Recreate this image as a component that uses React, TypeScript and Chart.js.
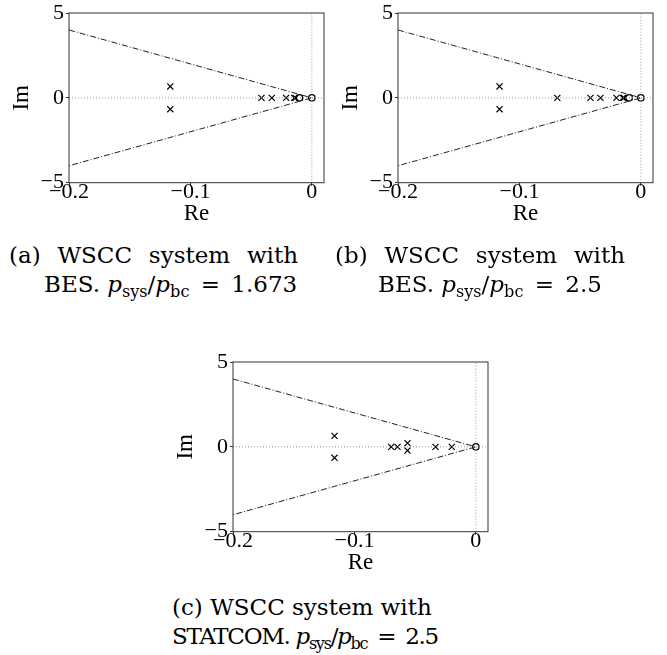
import React, { useEffect, useRef } from "react";
import { Chart, registerables } from "chart.js";

Chart.register(...registerables);

// ---- shared axis data ----
const X_TICKS = [-0.2, -0.1, 0];
const Y_TICKS = [-5, 0, 5];
const X_RANGE = [-0.2, 0.01];
const Y_RANGE = [-5, 5];
const ZERO_PAIR = [0, 0];
// damping-ratio boundary (dash-dot)
const DAMPING_RE = [-0.2, 0, -0.2];
const DAMPING_IM = [4, 0, -4];

// ---- panel (a): WSCC with BES, p_sys/p_bc = 1.673 ----
const A_CROSS_RE = [-0.1166, -0.1166, -0.0415, -0.033, -0.0212, -0.0145, -0.0135];
const A_CROSS_IM = [0.67, -0.67, 0, 0, 0, 0, 0];
const A_CIRCLE_RE = [-0.0102, 0];
const A_CIRCLE_IM = [0, 0];

// ---- panel (b): WSCC with BES, p_sys/p_bc = 2.5 ----
const B_CROSS_RE = [-0.1164, -0.1164, -0.0688, -0.0415, -0.0333, -0.0201, -0.0148, -0.0138];
const B_CROSS_IM = [0.67, -0.67, 0, 0, 0, 0, 0, 0];
const B_CIRCLE_RE = [-0.0096, 0];
const B_CIRCLE_IM = [0, 0];

// ---- panel (c): WSCC with STATCOM, p_sys/p_bc = 2.5 ----
const C_CROSS_RE = [-0.1164, -0.1164, -0.0697, -0.0645, -0.0563, -0.0563, -0.0332, -0.0198];
const C_CROSS_IM = [0.645, -0.645, 0, 0, 0.22, -0.22, 0, 0];
const C_CIRCLE_RE = [0];
const C_CIRCLE_IM = [0];

const SERIF = '"DejaVu Serif", "Liberation Serif", serif';
const AXIS_SERIF = '"Liberation Serif", "DejaVu Serif", serif';

const fmt = (v: number | string) => {
  const n = Number(v);
  if (n === 0) return "0";
  return String(n).replace("-", "\u2212");
};

const framePlugin = {
  id: "frame",
  afterDraw(chart: any) {
    const { ctx, chartArea } = chart;
    const { left, top, right, bottom } = chartArea;
    ctx.save();
    ctx.strokeStyle = "#333";
    ctx.lineWidth = 1;
    ctx.strokeRect(left, top, right - left, bottom - top);
    ctx.restore();
  },
};

type PanelProps = {
  left: number;
  top: number;
  crossRe: number[];
  crossIm: number[];
  circRe: number[];
  circIm: number[];
};

const CW = 340;
const CH = 235;
const X_AXIS_H = 45;

function Panel({ left, top, crossRe, crossIm, circRe, circIm }: PanelProps) {
  const ref = useRef<HTMLCanvasElement>(null);
  useEffect(() => {
    if (!ref.current) return;
    const pts = (xs: number[], ys: number[]) => xs.map((x, i) => ({ x, y: ys[i] }));
    const chart = new Chart(ref.current, {
      type: "scatter",
      data: {
        datasets: [
          {
            data: pts(X_RANGE, ZERO_PAIR),
            showLine: true,
            borderColor: "#9a9a9a",
            borderWidth: 1,
            borderDash: [1, 2],
            pointRadius: 0,
          },
          {
            data: pts(ZERO_PAIR, Y_RANGE),
            showLine: true,
            borderColor: "#9a9a9a",
            borderWidth: 1,
            borderDash: [1, 2],
            pointRadius: 0,
          },
          {
            data: pts(DAMPING_RE, DAMPING_IM),
            showLine: true,
            borderColor: "#222",
            borderWidth: 1,
            borderDash: [6, 2, 1, 2],
            pointRadius: 0,
          },
          {
            data: pts(crossRe, crossIm),
            pointStyle: "crossRot",
            pointRadius: 4.3,
            borderColor: "#000",
            backgroundColor: "#000",
            borderWidth: 1.2,
          },
          {
            data: pts(circRe, circIm),
            pointStyle: "circle",
            pointRadius: 3.2,
            borderColor: "#000",
            backgroundColor: "rgba(0,0,0,0)",
            borderWidth: 1.3,
          },
        ] as any,
      },
      options: {
        responsive: false,
        animation: false,
        layout: { padding: { left: 0, right: 16, top: 12.7, bottom: CH - 182.7 - X_AXIS_H } },
        plugins: {
          legend: { display: false },
          tooltip: { enabled: false },
        },
        scales: {
          x: {
            type: "linear",
            min: X_RANGE[0],
            max: X_RANGE[1],
            afterBuildTicks: (s: any) => {
              s.ticks = X_TICKS.map((v) => ({ value: v }));
            },
            afterFit: (s: any) => {
              s.height = X_AXIS_H;
            },
            ticks: {
              font: { family: AXIS_SERIF, size: 22, lineHeight: 1 },
              color: "#000",
              padding: -4,
              maxRotation: 0,
              autoSkip: false,
              callback: (v: any) => fmt(v),
            },
            grid: { drawOnChartArea: false, tickLength: 3, color: "#333" },
            border: { display: false },
            title: {
              display: true,
              text: "Re",
              color: "#000",
              font: { family: AXIS_SERIF, size: 23, lineHeight: 1.2 },
              padding: 0,
            },
          },
          y: {
            type: "linear",
            min: Y_RANGE[0],
            max: Y_RANGE[1],
            afterBuildTicks: (s: any) => {
              s.ticks = Y_TICKS.map((v) => ({ value: v }));
            },
            afterFit: (s: any) => {
              s.width = 69;
            },
            ticks: {
              font: { family: AXIS_SERIF, size: 22, lineHeight: 1 },
              color: "#000",
              padding: 2,
              autoSkip: false,
              callback: (v: any) => fmt(v),
            },
            grid: { drawOnChartArea: false, tickLength: 3, color: "#333" },
            border: { display: false },
            title: {
              display: true,
              text: "Im",
              color: "#000",
              font: { family: AXIS_SERIF, size: 23, lineHeight: 1.2 },
              padding: { top: 8, bottom: 0 },
            },
          },
        },
      } as any,
      plugins: [framePlugin],
    });
    return () => chart.destroy();
  }, [crossRe, crossIm, circRe, circIm]);
  return (
    <canvas
      ref={ref}
      width={CW}
      height={CH}
      style={{ position: "absolute", left, top, width: CW, height: CH }}
    />
  );
}

const capStyle: React.CSSProperties = {
  position: "absolute",
  fontFamily: SERIF,
  fontSize: 23,
  lineHeight: "29px",
  color: "#000",
  whiteSpace: "nowrap",
};

const sub: React.CSSProperties = { fontSize: "0.7em", verticalAlign: "-0.28em" };

function Ratio({ value }: { value: string }) {
  return (
    <span>
      <i>p</i>
      <span style={sub}>sys</span>/<i>p</i>
      <span style={sub}>bc</span>
      <span style={{ margin: "0 4px" }}> = </span>
      {value}
    </span>
  );
}

function JustLine({ left, top, width, words }: { left: number; top: number; width: number; words: string[] }) {
  return (
    <div
      style={{
        ...capStyle,
        left,
        top,
        width,
        display: "flex",
        justifyContent: "space-between",
      }}
    >
      {words.map((w, i) => (
        <span key={i}>{w}</span>
      ))}
    </div>
  );
}

export default function App() {
  return (
    <div
      style={{
        position: "absolute",
        left: 0,
        top: 0,
        width: 667,
        height: 655,
        overflow: "hidden",
        background: "#fff",
      }}
    >
      <Panel left={0} top={0} crossRe={A_CROSS_RE} crossIm={A_CROSS_IM} circRe={A_CIRCLE_RE} circIm={A_CIRCLE_IM} />
      <Panel left={329} top={0} crossRe={B_CROSS_RE} crossIm={B_CROSS_IM} circRe={B_CIRCLE_RE} circIm={B_CIRCLE_IM} />
      <Panel left={164} top={349} crossRe={C_CROSS_RE} crossIm={C_CROSS_IM} circRe={C_CIRCLE_RE} circIm={C_CIRCLE_IM} />

      <JustLine left={9} top={240.6} width={289} words={["(a)", "WSCC", "system", "with"]} />
      <div style={{ ...capStyle, left: 44, top: 269.6 }}>
        BES. <Ratio value="1.673" />
      </div>

      <JustLine left={335} top={240.6} width={290} words={["(b)", "WSCC", "system", "with"]} />
      <div style={{ ...capStyle, left: 378, top: 269.6 }}>
        BES. <Ratio value="2.5" />
      </div>

      <div style={{ ...capStyle, left: 172, top: 592.6 }}>(c) WSCC system with</div>
      <div style={{ ...capStyle, left: 172, top: 621.6, letterSpacing: "-1.3px" }}>
        STATCOM. <Ratio value="2.5" />
      </div>
    </div>
  );
}
